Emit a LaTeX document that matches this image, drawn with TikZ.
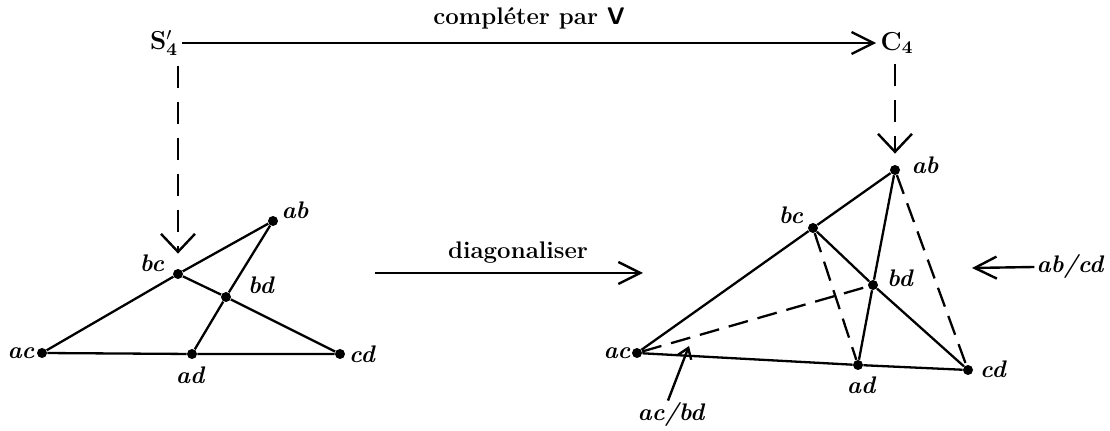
\documentclass[tikz,border=0pt]{standalone}
\usepackage{tikz}
\usetikzlibrary{arrows.meta, positioning}
\tikzset{
  pt/.style     = {circle, fill=black, minimum size=5pt, inner sep=0pt},
  lbl/.style    = {font=\fontsize{12}{14}\selectfont\bfseries\itshape, inner sep=1pt},
  txt/.style    = {font=\fontsize{12}{14}\selectfont\bfseries, inner sep=1pt},
  obj/.style    = {font=\fontsize{13}{15}\selectfont\bfseries, inner sep=2pt},
  edge/.style   = {line width=1.15pt, draw=black},
  dsh/.style    = {line width=1.15pt, draw=black, dash pattern=on 10pt off 5pt},
  harrow/.style = {line width=1.2pt, -{Straight Barb[length=11pt,width=11pt,line width=1.2pt]}},
  varrow/.style = {line width=1.2pt, dash pattern=on 11pt off 7pt,
                   -{Straight Barb[length=9pt,width=17pt,line width=1.2pt]}},
  sarrow/.style = {line width=1.2pt, -{Straight Barb[length=5pt,width=7pt,line width=1.2pt]}},
}
\begin{document}
\begin{tikzpicture}[x=0.5pt, y=-0.5pt]
  \useasboundingbox (0,0) rectangle (1110,431);

  % ---- top row -------------------------------------------------------------
  \node[obj] (S) at (164,43) {S$'_{\mathbf{4}}$};
  \node[obj] (C) at (897,43) {C$_{\mathbf{4}}$};
  \draw[harrow] (S.east) -- (C.west);
  \node[txt, anchor=base] (cpl) at (529,25) {compl\'eter par \textsf{V}};

  % ---- left triangle -------------------------------------------------------
  \foreach \n/\x/\y/\lx/\ly in {%
      ab/273/221/295/210, bc/178/274/152/263, bd/226/297/261/285,
      ac/42/353/21/353,   ad/192/354/190/375, cd/340/354/362/354} {
     \node[pt] (L\n) at (\x,\y) {};
     \node[lbl] (L\n-t) at (\lx,\ly) {\n};
  }
  \draw[edge] (Lac) -- (Lbc) -- (Lab);
  \draw[edge] (Lac) -- (Lad) -- (Lcd);
  \draw[edge] (Lbc) -- (Lbd) -- (Lcd);
  \draw[edge] (Lab) -- (Lbd) -- (Lad);

  % ---- right triangle ------------------------------------------------------
  \foreach \n/\x/\y/\lx/\ly in {%
      ab/895/170/925/165, bc/813/228/791/215, bd/873/285/900/278,
      ac/637/353/617/353, ad/858/365/861/385, cd/968/370/993/369} {
     \node[pt] (R\n) at (\x,\y) {};
     \node[lbl] (R\n-t) at (\lx,\ly) {\n};
  }
  \draw[edge] (Rac) -- (Rbc) -- (Rab);
  \draw[edge] (Rac) -- (Rad) -- (Rcd);
  \draw[edge] (Rbc) -- (Rbd) -- (Rcd);
  \draw[edge] (Rab) -- (Rbd) -- (Rad);
  \draw[dsh] (Rac) -- (Rbd);
  \draw[dsh] (Rbc) -- (Rad);
  \draw[dsh] (Rab) -- (Rcd);

  % ---- vertical maps -------------------------------------------------------
  \draw[varrow, shorten <=3pt, shorten >=7.5pt] (S.south -| Lbc) -- (Lbc);
  \draw[varrow, shorten <=3pt, shorten >=5.5pt] (C.south -| Rab) -- (Rab);

  % ---- diagonaliser --------------------------------------------------------
  \coordinate (dg-a) at (375,273);
  \coordinate (dg-b) at (643,273);
  \draw[harrow] (dg-a) -- (dg-b);
  \node[txt, anchor=base] (dgl) at (518,259) {diagonaliser};

  % ---- pairings ------------------------------------------------------------
  \node[lbl] (abcd) at (1070,267) {ab/cd};
  \coordinate (abcd-tip) at (972,268);
  \draw[harrow] (abcd.west) -- (abcd-tip);
  \node[lbl] (acbd) at (671,415) {ac/bd};
  \coordinate (acbd-tip) at (689,346);
  \draw[sarrow] ([xshift=-1.5pt]acbd.north) -- (acbd-tip);
\end{tikzpicture}
\end{document}
